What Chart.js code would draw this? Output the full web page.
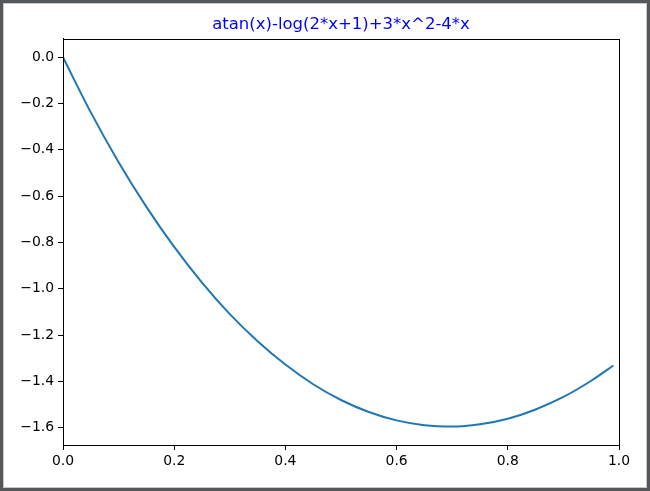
<!DOCTYPE html>
<html>
<head>
<meta charset="utf-8">
<script src="https://cdn.jsdelivr.net/npm/chart.js@4.4.0/dist/chart.umd.min.js"></script>
<style>
  html, body { margin: 0; padding: 0; background: #54585b; }
  #frame {
    position: absolute; left: 3px; top: 3px;
    width: 642px; height: 483px;
    border: 1px solid #c9c9c9; background: #fff;
  }
  canvas { display: block; }
</style>
</head>
<body>
<div id="frame"><canvas id="myChart" width="642" height="483"></canvas></div>
<script>
// values
var xs = [0, 0.05, 0.1, 0.15, 0.2, 0.25, 0.3, 0.35, 0.4, 0.45, 0.5,
          0.55, 0.6, 0.65, 0.7, 0.75, 0.8, 0.85, 0.9, 0.95, 0.99];
var ys = [0, -0.238, -0.453, -0.646, -0.819, -0.973, -1.109, -1.226, -1.327, -1.412, -1.480,
          -1.532, -1.568, -1.589, -1.595, -1.585, -1.561, -1.521, -1.467, -1.397, -1.331];
var xTicks = [0, 0.2, 0.4, 0.6, 0.8, 1.0];
var yTicks = [0, -0.2, -0.4, -0.6, -0.8, -1.0, -1.2, -1.4, -1.6];
var title = "atan(x)-log(2*x+1)+3*x^2-4*x";

var points = [];
for (var i = 0; i < xs.length; i++) {
  points.push({ x: xs[i], y: ys[i] });
}

var fmt = function (v) {
  return v.toFixed(1).replace("-", "\u2212");
};

// black box around the plot area, like the spines
var boxPlugin = {
  id: "box",
  afterDraw: function (chart) {
    var a = chart.chartArea;
    var ctx = chart.ctx;
    ctx.save();
    ctx.strokeStyle = "#000";
    ctx.lineWidth = 1;
    ctx.strokeRect(Math.round(a.left) + 0.5, Math.round(a.top) + 0.5,
                   Math.round(a.right - a.left), Math.round(a.bottom - a.top));
    ctx.restore();
  }
};

var ctx = document.getElementById("myChart");
var myChart = new Chart(ctx, {
  type: "line",
  data: {
    datasets: [{
      data: points,
      borderColor: "#1f77b4",
      borderWidth: 2,
      pointRadius: 0,
      fill: false,
      cubicInterpolationMode: "monotone"
    }]
  },
  plugins: [boxPlugin],
  options: {
    responsive: false,
    animation: false,
    layout: { padding: { top: 0, right: 27, left: 0, bottom: 0 } },
    plugins: {
      legend: { display: false },
      tooltip: { enabled: false },
      title: {
        display: true,
        text: title,
        color: "#0000ff",
        fullSize: false,
        font: { family: "DejaVu Sans", size: 16.5, weight: "normal" },
        padding: { top: 11, bottom: 4 }
      }
    },
    scales: {
      x: {
        type: "linear",
        min: 0,
        max: 1.0,
        afterBuildTicks: function (axis) {
          axis.ticks = xTicks.map(function (v) { return { value: v }; });
        },
        afterFit: function (axis) { axis.height = 42; },
        grid: { display: true, drawOnChartArea: false, color: "#000", tickLength: 5, tickWidth: 1 },
        border: { display: true, color: "#000" },
        ticks: {
          color: "#000",
          padding: 3,
          maxRotation: 0,
          font: { family: "DejaVu Sans", size: 13.9 },
          callback: function (v) { return fmt(v); }
        }
      },
      y: {
        type: "linear",
        min: -1.6744,
        max: 0.0797,
        afterBuildTicks: function (axis) {
          axis.ticks = yTicks.map(function (v) { return { value: v }; });
        },
        afterFit: function (axis) { axis.width = 59; },
        grid: { display: true, drawOnChartArea: false, color: "#000", tickLength: 5, tickWidth: 1 },
        border: { display: true, color: "#000" },
        ticks: {
          color: "#000",
          padding: 4,
          font: { family: "DejaVu Sans", size: 13.9 },
          callback: function (v) { return fmt(v); }
        }
      }
    }
  }
});
</script>
</body>
</html>
